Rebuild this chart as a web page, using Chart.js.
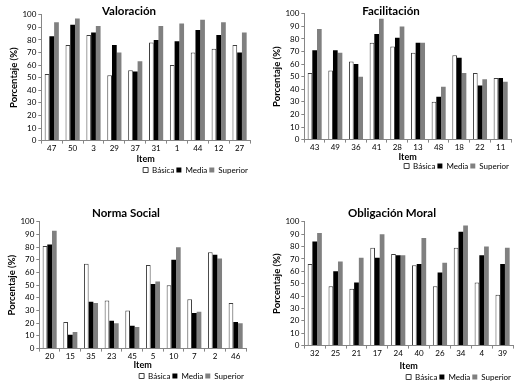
<!DOCTYPE html>
<html>
<head>
<meta charset="utf-8">
<script src="https://cdn.jsdelivr.net/npm/chart.js@4"></script>
<style>
html,body{margin:0;padding:0;background:#fff;width:527px;height:391px;overflow:hidden;}
.p{position:absolute;}
</style>
</head>
<body>
<div class="p" id="w1" style="left:0px;top:0px;width:262px;height:184px;"><canvas id="c1"></canvas></div>
<div class="p" id="w2" style="left:263px;top:0px;width:262px;height:180px;"><canvas id="c2"></canvas></div>
<div class="p" id="w3" style="left:0px;top:200px;width:262px;height:190px;"><canvas id="c3"></canvas></div>
<div class="p" id="w4" style="left:263px;top:200px;width:262px;height:191px;"><canvas id="c4"></canvas></div>
<script>
const seriesNames = ["Básica", "Media", "Superior"];

const valTitle = "Valoración";
const valItems = ["47","50","3","29","37","31","1","44","12","27"];
const valBasica = [53,76,84,52,56,78,60,70,73,76];
const valMedia = [83,92,86,76,55,80,79,88,84,70];
const valSuperior = [94,97,91,70,63,91,93,96,94,86];

const facTitle = "Facilitación";
const facItems = ["43","49","36","41","28","13","48","18","22","11"];
const facBasica = [53,55,62,77,74,69,30,67,53,49];
const facMedia = [71,71,60,84,81,77,34,65,43,49];
const facSuperior = [88,69,50,96,90,77,42,53,48,46];

const nsTitle = "Norma Social";
const nsItems = ["20","15","35","23","45","5","10","7","2","46"];
const nsBasica = [81,21,67,38,30,66,50,39,76,36];
const nsMedia = [82,11,37,22,18,51,70,28,74,21];
const nsSuperior = [93,13,36,20,17,53,80,29,71,20];

const omTitle = "Obligación Moral";
const omItems = ["32","25","21","17","24","40","26","34","4","39"];
const omBasica = [66,48,46,79,74,65,48,79,51,41];
const omMedia = [84,60,51,71,73,66,59,92,73,66];
const omSuperior = [91,68,71,90,73,87,67,97,80,79];

const yTicks = [0,10,20,30,40,50,60,70,80,90,100];

const FONT = "Lato, 'Open Sans', 'Liberation Sans', sans-serif";
const AX = '#868686';

function make(id, title, items, b, m, s, pad, titlePad, itemPad) {
  new Chart(document.getElementById(id), {
    type: 'bar',
    data: {
      labels: items,
      datasets: [
        {label: seriesNames[0], data: b, backgroundColor: '#ffffff', borderColor: '#404040', borderWidth: 1, borderSkipped: 'bottom'},
        {label: seriesNames[1], data: m, backgroundColor: '#000000', borderColor: '#000000', borderWidth: 0},
        {label: seriesNames[2], data: s, backgroundColor: '#808080', borderColor: '#808080', borderWidth: 0}
      ]
    },
    options: {
      responsive: true,
      maintainAspectRatio: false,
      animation: false,
      layout: {padding: pad},
      datasets: {bar: {barPercentage: 1.0, categoryPercentage: 0.68}},
      plugins: {
        title: {display: true, text: title, color: '#000', font: {family: FONT, size: 11.5, weight: 'bold'}, padding: titlePad},
        legend: {
          position: 'bottom', align: 'end',
          labels: {boxWidth: 5, boxHeight: 5, padding: 2, color: '#000', font: {family: FONT, size: 8}}
        },
        tooltip: {enabled: false}
      },
      scales: {
        x: {
          grid: {display: true, drawOnChartArea: false, drawTicks: true, tickLength: 3, color: AX, offset: true},
          border: {display: true, color: AX},
          ticks: {color: '#000', font: {family: FONT, size: 8}, padding: 0, maxRotation: 0, autoSkip: false},
          title: {display: true, text: 'Item', color: '#000', font: {family: FONT, size: 9, weight: 'bold'}, padding: itemPad}
        },
        y: {
          min: 0, max: 100,
          afterBuildTicks: (ax) => { ax.ticks = yTicks.map(v => ({value: v})); },
          grid: {display: true, drawOnChartArea: false, drawTicks: true, tickLength: 3, color: AX},
          border: {display: true, color: AX},
          ticks: {color: '#000', font: {family: FONT, size: 8}, padding: 2, autoSkip: false},
          title: {display: true, text: 'Porcentaje (%)', color: '#000', font: {family: FONT, size: 9.5, weight: 'bold'}, padding: {top: 0, bottom: 1}}
        }
      }
    }
  });
}

make('c1', valTitle, valItems, valBasica, valMedia, valSuperior, {left: 8, right: 12, top: 0, bottom: 0}, {top: 4, bottom: -3}, {top: 0, bottom: 0});
make('c2', facTitle, facItems, facBasica, facMedia, facSuperior, {left: 8, right: 14, top: 0, bottom: 0}, {top: 4, bottom: -4}, {top: -1, bottom: -2});
make('c3', nsTitle, nsItems, nsBasica, nsMedia, nsSuperior, {left: 6, right: 16, top: 4, bottom: 0}, {top: 2, bottom: 2}, {top: -2, bottom: 0});
make('c4', omTitle, omItems, omBasica, omMedia, omSuperior, {left: 8, right: 12, top: 4, bottom: 0}, {top: 2, bottom: 2}, {top: 2, bottom: 0});
</script>
</body>
</html>
